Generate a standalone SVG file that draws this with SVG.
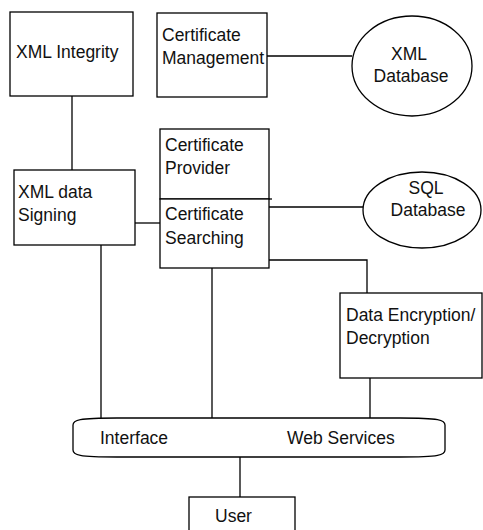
<svg xmlns="http://www.w3.org/2000/svg" width="483" height="530" viewBox="0 0 483 530">
<style>
.box{fill:#fff;stroke:#000;stroke-width:1.3}
.ln{fill:none;stroke:#000;stroke-width:1.3}
text{font-family:"Liberation Sans",Arial,sans-serif;font-size:17.5px;fill:#111}
</style>
<rect width="483" height="530" fill="#fff"/>
<g id="connectors" class="ln">
<line x1="72" y1="96" x2="72" y2="170"/>
<line x1="267" y1="56" x2="352" y2="56"/>
<line x1="135" y1="223" x2="160" y2="223"/>
<line x1="269" y1="199" x2="272" y2="199"/>
<line x1="269" y1="207" x2="363" y2="207"/>
<polyline points="269,260 367,260 367,293"/>
<line x1="101" y1="245" x2="101" y2="418"/>
<line x1="212" y1="268" x2="212" y2="418"/>
<line x1="370" y1="378" x2="370" y2="418"/>
<line x1="240" y1="457" x2="240" y2="497"/>
</g>
<g id="xml-integrity">
<rect class="box" x="10" y="12" width="123" height="84"/>
<text x="16" y="58">XML Integrity</text>
</g>
<g id="certificate-management">
<rect class="box" x="157" y="13" width="110" height="84"/>
<text x="162" y="41">Certificate</text>
<text x="162" y="64">Management</text>
</g>
<g id="xml-database">
<ellipse class="box" cx="412" cy="66" rx="60" ry="50"/>
<text x="409" y="60" text-anchor="middle">XML</text>
<text x="411" y="82" text-anchor="middle">Database</text>
</g>
<g id="xml-data-signing">
<rect class="box" x="14" y="170" width="121" height="75"/>
<text x="18" y="198">XML data</text>
<text x="18" y="221">Signing</text>
</g>
<g id="certificate-provider">
<rect class="box" x="160" y="129" width="109" height="70"/>
<text x="165" y="151">Certificate</text>
<text x="165" y="174">Provider</text>
</g>
<g id="certificate-searching">
<rect class="box" x="160" y="199" width="109" height="69"/>
<text x="165" y="220">Certificate</text>
<text x="165" y="244">Searching</text>
</g>
<g id="sql-database">
<ellipse class="box" cx="422" cy="210" rx="59" ry="38"/>
<text x="426" y="194" text-anchor="middle">SQL</text>
<text x="428" y="216" text-anchor="middle">Database</text>
</g>
<g id="data-encryption">
<rect class="box" x="340" y="293" width="142" height="85"/>
<text x="346" y="321">Data Encryption/</text>
<text x="346" y="344">Decryption</text>
</g>
<g id="interface">
<path class="box" d="M117,418 L400,418 C440,418 445,420 445,425 L445,450 C445,455 440,457 400,457 L117,457 C78,457 73,455 73,450 L73,425 C73,420 78,418 117,418 Z"/>
<text x="100" y="444">Interface</text>
<text x="287" y="444">Web Services</text>
</g>
<g id="user">
<rect class="box" x="189" y="497" width="106" height="40"/>
<text x="215" y="522">User</text>
</g>
</svg>
